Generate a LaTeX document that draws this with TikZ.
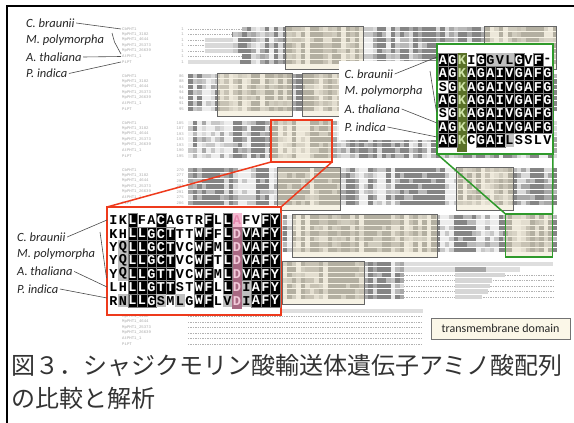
\documentclass[tikz,border=0pt]{standalone}
\usepackage{fontspec}
\setmainfont{Carlito}
\newfontfamily\monofont{Liberation Mono}
\newfontfamily\jpfont{Noto Sans CJK JP}
\definecolor{redc}{HTML}{EE3A1C}
\definecolor{greenc}{HTML}{2F9A2B}
\definecolor{tmbeige}{HTML}{EDE3C4}
\definecolor{olivec}{HTML}{5A7128}
\definecolor{olivetext}{HTML}{CFE3A8}
\definecolor{pinkl}{HTML}{F4B9D0}
\definecolor{pinktext}{HTML}{E489AE}
\definecolor{mauvec}{HTML}{A86882}
\definecolor{mauvetext}{HTML}{F2C9D9}
\definecolor{namegray}{HTML}{A9A9A9}
\definecolor{legfill}{HTML}{FBF7E8}
\newcommand\numcol[2]{\foreach \n [count=\r from 0] in {#2} {\node[num] (u#1-\r) at (184,{29+47*#1+5.5*\r}) {\n};}}
\newcommand\namecol[1]{\foreach \nmx [count=\r from 0] in {CbPHT1,MpPHT1\_3182,MpPHT1\_4644,MpPHT1\_25373,MpPHT1\_26639,AtPHT1\_1,PiPT} {\node[nm] (n#1-\r) at (122,{29+47*#1+5.5*\r}) {\nmx};}}
\tikzset{
  cell/.style={minimum width=9.5pt,minimum height=13.4pt,inner sep=0pt,anchor=north west,
     font=\monofont\bfseries\fontsize{13.5}{13.5}\selectfont},
  sb/.style={cell,fill=black,text=white,draw=black!50,line width=0.3pt},
  sw/.style={cell,text=black},
  sg/.style={cell,fill=black!25,text=black},
  sk/.style={cell,text=olivetext},
  sp/.style={cell,text=pinktext},
  sd/.style={cell,text=mauvetext},
  lab/.style={font=\itshape\fontsize{12.5}{14}\selectfont,anchor=west,inner sep=1.5pt,text=black!85},
  conn/.style={draw=black!70,line width=0.6pt},
  nm/.style={font=\monofont\fontsize{4}{4}\selectfont,text=namegray,inner sep=0pt,anchor=west},
  num/.style={font=\monofont\fontsize{4}{4}\selectfont,text=namegray,inner sep=0pt,anchor=east},
  tmbox/.style={draw=black!60,line width=0.8pt},
  tmfill/.style={fill=tmbeige,fill opacity=0.45},
  dashrow/.style={draw=black!30,line width=0.45pt,dash pattern=on 1.4pt off 1pt},
}
\begin{document}
\begin{tikzpicture}[x=1pt,y=-1pt]
\useasboundingbox (0,0) rectangle (574,423);
\fill[white] (0,0) rectangle (574,423);
% frame
\draw[line width=2.5pt,black] (7,423) -- (7,6) -- (574,6);

% alignment names and numbers
\namecol{0}\namecol{1}\namecol{2}\namecol{3}\namecol{6}
\numcol{0}{1,1,1,1,1,1,1}
\numcol{1}{86,88,94,94,94,91,95}
\numcol{2}{185,187,193,193,193,190,195}
\numcol{3}{270,277,291,291,291,275,286}

% alignment shading
\pgfmathsetseed{11}
\foreach \b in {0,...,5}{
  \foreach \c in {0,...,81}{
    \pgfmathsetmacro\cv{rnd}
    \foreach \r in {0,...,6}{
      \pgfmathsetmacro\e{rnd}
      \pgfmathtruncatemacro\lev{\cv>0.5 ? (\e<0.8 ? 48 : 28) : (\cv>0.25 ? (\e<0.55 ? 34 : 15) : (\e<0.35 ? 22 : 7))}
      \fill[black!\lev] ({188+4.5*\c},{26.55+47*\b+5.5*\r}) rectangle ++(4.5,4.9);
    }
  }
}
% block 1 leading gaps
\foreach \r/\s in {0/242,1/232,2/233,3/233,4/233,5/242,6/240}{
  \fill[white] (187,{26.3+5.5*\r}) rectangle (\s,{31.7+5.5*\r});
}
\foreach \r/\s in {0/242,1/232,2/205,3/205,4/205,5/242}{
  \draw[dashrow] (188,{29+5.5*\r}) -- (\s,{29+5.5*\r});
}
\foreach \r in {2,3,4}{\fill[black!15] (205,{26.55+5.5*\r}) rectangle (233,{31.45+5.5*\r});}
\fill[black!13] (188,{26.55+5.5*6}) rectangle (240,{31.45+5.5*6});
% block 6 right part
\fill[white] (404,{264-3}) rectangle (562,{264+37});
\fill[black!13] (404,{264-2.45}) rectangle (553,{264+2.45});
\fill[black!13] (404,{269.5-2.45}) rectangle (520,{269.5+2.45});
\fill[black!35] (455,{269.5-2.45}) rectangle (486,{269.5+2.45});
\foreach \r in {2,...,6}{
  \draw[dashrow] (404,{264+5.5*\r}) -- (553,{264+5.5*\r});
}
\foreach \r/\s in {2/505,3/492,4/490,5/488,6/482}{
  \fill[black!16] (455,{264+5.5*\r-2.45}) rectangle (\s,{264+5.5*\r+2.45});
}
% block 7
\fill[black!13] (188,{311-2.45}) rectangle (423,{311+2.45});
\foreach \r in {1,...,6}{
  \draw[dashrow] (188,{311+5.5*\r}) -- (423,{311+5.5*\r});
}

% transmembrane boxes
\foreach \xa/\ya/\xb/\yb in {285/26/363/69, 484/26/556/69, 217/73/292/116, 302/73/373/116,
  277/167/340/210, 456/167/513/210, 292/214/437/257, 282/261/364/304}{
  \fill[tmfill] (\xa,\ya) rectangle (\xb,\yb);
  \draw[tmbox] (\xa,\ya) rectangle (\xb,\yb);
}
% small highlighted regions
\node[fill=tmbeige,fill opacity=0.45,draw=redc,draw opacity=1,line width=1.5pt,minimum width=61pt,minimum height=42pt,inner sep=0pt,outer sep=0pt] (redsmall) at (301.5,141) {};
\node[fill=tmbeige,fill opacity=0.45,draw=greenc,draw opacity=1,line width=1.5pt,minimum width=47pt,minimum height=43pt,inner sep=0pt,outer sep=0pt] (greensmall) at (529,235.5) {};

% red zoom panel
\node[fill=white,draw=redc,line width=1.8pt,minimum width=174pt,minimum height=108pt,inner sep=0pt,outer sep=0pt] (redpanel) at (194,261) {};
\draw[redc,line width=1.5pt] (redsmall.south west) -- (redpanel.north west);
\draw[redc,line width=1.5pt] (redsmall.south east) -- (redpanel.north east);
\fill[pinkl] (232,213.3) rectangle (241.5,226.7);
\fill[mauvec] (232,226.7) rectangle (241.5,309);
\foreach \row [count=\r from 0] in {
 {I/w,K/w,L/b,F/w,A/w,C/b,A/w,G/w,T/w,R/w,F/b,L/w,L/b,A/p,F/w,V/w,F/b,Y/b},
 {K/w,H/w,L/b,L/b,G/b,C/b,T/b,T/w,T/w,W/b,F/b,F/w,L/b,D/d,V/b,A/b,F/b,Y/b},
 {Y/w,Q/g,L/b,L/b,G/b,C/b,T/b,V/w,C/w,W/b,F/b,M/w,L/b,D/d,V/b,A/b,F/b,Y/b},
 {Y/w,Q/g,L/b,L/b,G/b,C/b,T/b,V/w,C/w,W/b,F/b,T/w,L/b,D/d,V/b,A/b,F/b,Y/b},
 {Y/w,Q/g,L/b,L/b,G/b,T/b,T/b,V/w,C/w,W/b,F/b,M/w,L/b,D/d,V/b,A/b,F/b,Y/b},
 {L/w,H/w,L/b,L/b,G/b,T/b,T/b,S/w,T/w,W/b,F/b,L/w,L/b,D/d,I/g,A/b,F/b,Y/b},
 {R/w,N/g,L/b,L/b,G/b,S/g,M/w,L/g,G/w,W/b,F/b,L/w,V/g,D/d,I/g,A/b,F/b,Y/b}}{
  \foreach \ch/\st [count=\i from 0] in \row {
    \pgfmathsetmacro\xx{108.5+9.5*\i}
    \pgfmathsetmacro\yy{213.3+13.4*\r}
    \edef\tmp{\noexpand\node[s\st] (rp\r-\i) at (\xx,\yy) {\ch};}
    \tmp
  }
}

% green zoom panel
\node[fill=white,inner sep=0pt,minimum width=98pt,minimum height=79pt] (glabbg) at (388,100.5) {};
\node[fill=white,draw=greenc,line width=1.5pt,minimum width=116pt,minimum height=110pt,inner sep=0pt,outer sep=0pt] (greenpanel) at (495,99) {};
\draw[greenc,line width=1.5pt] (greensmall.north west) -- (greenpanel.south west);
\draw[greenc,line width=1.5pt] (greensmall.north east) -- (greenpanel.south east);
\fill[olivec] (457,53) rectangle (466.5,152);
\foreach \row [count=\r from 0] in {
 {A/b,G/b,K/k,I/w,G/b,G/g,V/g,L/g,G/b,V/w,F/b,-/w},
 {A/b,G/b,K/k,A/b,G/b,A/b,I/b,V/b,G/b,A/b,F/b,G/b},
 {S/w,G/b,K/k,A/b,G/b,A/b,I/b,V/b,G/b,A/b,F/b,G/b},
 {A/b,G/b,K/k,A/b,G/b,A/b,I/b,V/b,G/b,A/b,F/b,G/b},
 {S/w,G/b,K/k,A/b,G/b,A/b,I/b,V/b,G/b,A/b,F/b,G/b},
 {A/b,G/b,K/k,A/b,G/b,A/b,I/b,V/b,G/b,A/b,F/b,G/b},
 {A/b,G/b,K/k,C/w,G/b,A/b,I/b,L/g,S/w,S/w,L/w,V/w}}{
  \foreach \ch/\st [count=\i from 0] in \row {
    \pgfmathsetmacro\xx{438+9.5*\i}
    \pgfmathsetmacro\yy{53+13.4*\r}
    \edef\tmp{\noexpand\node[s\st] (gp\r-\i) at (\xx,\yy) {\ch};}
    \tmp
  }
}

% top-left labels
\node[lab] (tl1) at (24.5,23) {C. braunii};
\node[lab] (tl2) at (24.5,40) {M. polymorpha};
\node[lab] (tl3) at (24.5,57) {A. thaliana};
\node[lab] (tl4) at (24.5,73.5) {P. indica};
\coordinate (tc1) at (121,29);
\coordinate (tc2a) at (112,33);
\coordinate (tc2b) at (114.5,42);
\coordinate (tc2c) at (121,54);
\coordinate (tc3) at (121,56.5);
\coordinate (tc4) at (121,62);
\draw[conn] (tl1.east) -- (tc1);
\draw[conn] (tc2a) -- (tc2b) -- (tc2c);
\draw[conn] (tl3.east) -- (tc3);
\draw[conn] (tl4.east) -- (tc4);

% red panel labels
\node[lab] (rl1) at (15.5,237) {C. braunii};
\node[lab] (rl2) at (15.5,254) {M. polymorpha};
\node[lab] (rl3) at (15.5,271.5) {A. thaliana};
\node[lab] (rl4) at (15.5,289) {P. indica};
\coordinate (rc1) at (107,220);
\coordinate (rc2a) at (100,232);
\coordinate (rc2b) at (106.5,278);
\coordinate (rc3) at (107,287);
\coordinate (rc4) at (107,298);
\draw[conn] (rl1.east) -- (rc1);
\draw[conn] (rc2a) -- (rc2b);
\draw[conn] (rl3.east) -- (rc3);
\draw[conn] (rl4.east) -- (rc4);

% green panel labels
\node[lab] (gl1) at (343,74) {C. braunii};
\node[lab] (gl2) at (343,91.5) {M. polymorpha};
\node[lab] (gl3) at (343,109) {A. thaliana};
\node[lab] (gl4) at (343,127) {P. indica};
\coordinate (gc1) at (437,57);
\coordinate (gc2a) at (430,71);
\coordinate (gc2b) at (436.5,112);
\coordinate (gc3) at (437,123);
\coordinate (gc4) at (437,137);
\draw[conn] (gl1.east) -- (gc1);
\draw[conn] (gc2a) -- (gc2b);
\draw[conn] (gl3.east) -- (gc3);
\draw[conn] (gl4.east) -- (gc4);

% legend
\node[draw=black!55,fill=legfill,line width=0.7pt,minimum width=139pt,minimum height=21pt,inner sep=0pt,
  font=\fontsize{12}{14}\selectfont,text=black!85] (legend) at (500.5,328.5) {transmembrane domain};

% caption
\node[anchor=west,inner sep=0pt,font=\jpfont\fontsize{24}{24}\selectfont,text=black!80] (cap1) at (11,365) {図３．シャジクモリン酸輸送体遺伝子アミノ酸配列};
\node[anchor=west,inner sep=0pt,font=\jpfont\fontsize{24}{24}\selectfont,text=black!80] (cap2) at (11,398) {の比較と解析};
\end{tikzpicture}
\end{document}
